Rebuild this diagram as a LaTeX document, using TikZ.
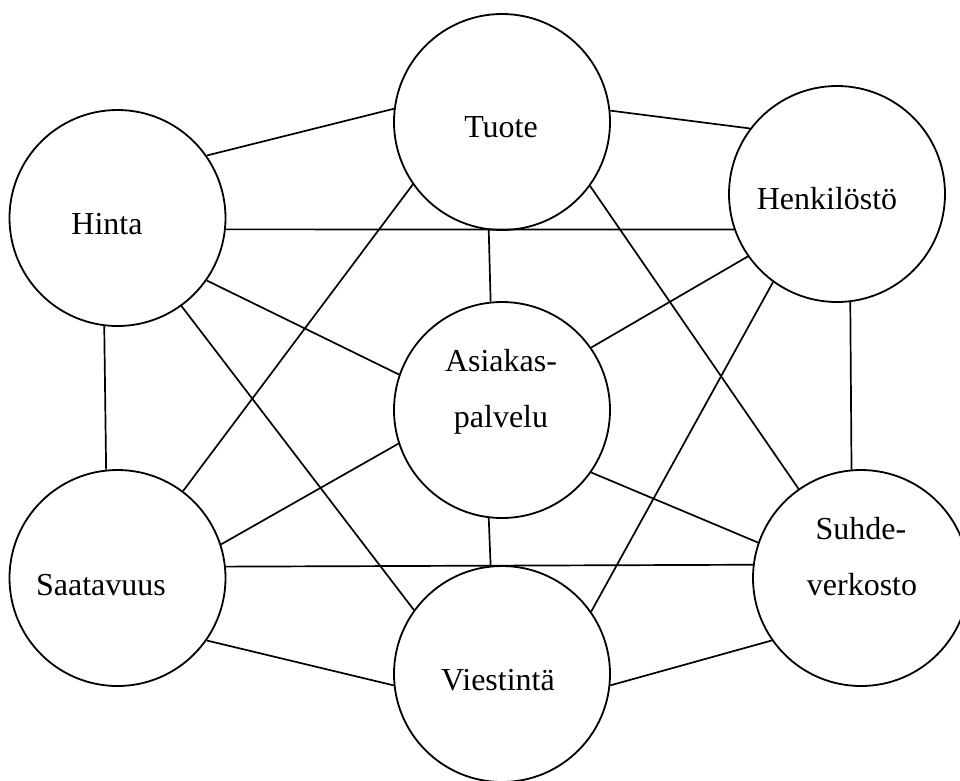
\documentclass[tikz,border=0pt]{standalone}
\usepackage{fontspec}
\setmainfont{Liberation Serif}
\begin{document}
\begin{tikzpicture}[x=1pt,y=-1pt,
  ring/.style={draw=black,circle,line width=1.8pt,minimum size=216pt,inner sep=0pt},
  link/.style={draw=black,line width=1.7pt},
  lbl/.style={anchor=base,inner sep=0pt,font=\fontsize{32}{38}\selectfont}]
\useasboundingbox (0,0) rectangle (960,780);
\clip (0,0) rectangle (960,780);
\fill[white] (0,0) rectangle (960,780);
% circles
\node[ring] (T)  at (502,122) {};
\node[ring] (Hi) at (117.5,218) {};
\node[ring] (He) at (837,194) {};
\node[ring] (A)  at (502,410) {};
\node[ring] (S)  at (117.5,578) {};
\node[ring] (Su) at (861,578) {};
\node[ring] (V)  at (502,674) {};
% labels
\node[lbl] (tT)  at (501,137) {Tuote};
\node[lbl] (tHi) at (107,234) {Hinta};
\node[lbl] (tHe) at (827,209) {Henkilöstö};
\node[lbl] (tA1) at (501,371) {Asiakas-};
\node[lbl] (tA2) at (501,427) {palvelu};
\node[lbl] (tS)  at (101,595) {Saatavuus};
\node[lbl] (tSu1) at (861,539) {Suhde-};
\node[lbl] (tSu2) at (862,595) {verkosto};
\node[lbl] (tV)  at (498,690) {Viestintä};
% connectors
\draw[link] (Hi.35.8) -- (T.173.2);
\draw[link] (T.6.4) -- (He.143.7);
\draw[link] (Hi.-6.3) -- (He.199.5);
\draw[link] (T.263.6) -- (A.96.4);
\draw[link] (Hi.-35.4) -- (A.161.6);
\draw[link] (Hi.-54.7) -- (V.144.8);
\draw[link] (T.215.2) -- (S.53.7);
\draw[link] (T.-36.3) -- (Su.125.1);
\draw[link] (He.215.9) -- (A.35.9);
\draw[link] (He.234.1) -- (V.35.7);
\draw[link] (Hi.263.9) -- (S.96.1);
\draw[link] (He.-83.1) -- (Su.95.8);
\draw[link] (A.198.4) -- (S.18);
\draw[link] (A.-35.9) -- (Su.161.4);
\draw[link] (A.263.6) -- (V.96.4);
\draw[link] (S.6.4) -- (Su.173.6);
\draw[link] (S.-35.7) -- (V.186.3);
\draw[link] (V.-6.3) -- (Su.215.9);
\end{tikzpicture}
\end{document}
